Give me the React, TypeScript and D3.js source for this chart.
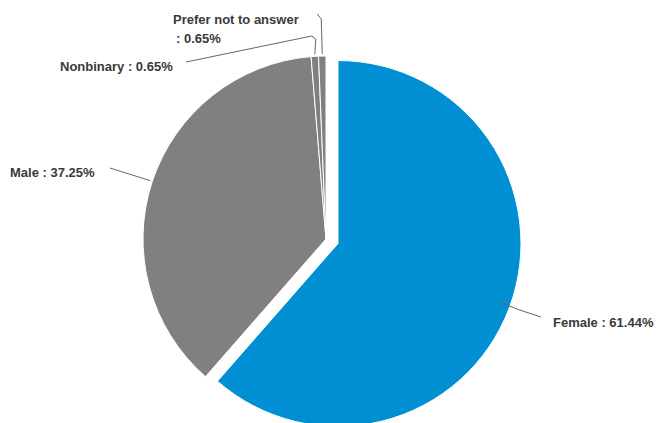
import React from "react";
import * as d3 from "d3";

const categories = ["Female", "Male", "Nonbinary", "Prefer not to answer"];
const values = [61.44, 37.25, 0.65, 0.65];
const valueLabels = ["61.44%", "37.25%", "0.65%", "0.65%"];
const colors = ["#008fd3", "#808080", "#808080", "#808080"];

const W = 657;
const H = 423;
const cx = 326;
const cy = 239;
const R = 183;
const explode = 12.8;

type LabelLayout = {
  lines: string[];
  x: number;
  y: number;
  anchor: "start" | "end";
  path: (p: [number, number]) => [number, number][];
};

export default function App() {
  const pie = d3
    .pie<number>()
    .value((d) => d)
    .sort(null)(values);
  const arc = d3.arc<d3.PieArcDatum<number>>().innerRadius(0).outerRadius(R);

  const layouts: LabelLayout[] = [
    {
      lines: [`${categories[0]} : ${valueLabels[0]}`],
      x: 553,
      y: 327,
      anchor: "start",
      path: (p) => [[p[0] - 10, p[1] - 6], [p[0] + 10, p[1] + 2], [541, 317]],
    },
    {
      lines: [`${categories[1]} : ${valueLabels[1]}`],
      x: 10,
      y: 177,
      anchor: "start",
      path: (p) => [[p[0] - 2, p[1] - 1], [110, 168]],
    },
    {
      lines: [`${categories[2]} : ${valueLabels[2]}`],
      x: 60,
      y: 71,
      anchor: "start",
      path: (p) => [[p[0], p[1] - 2], [p[0] + 1, 39], [p[0] - 3, 36], [186, 62]],
    },
    {
      lines: ["Prefer not to answer", `: ${valueLabels[3]}`],
      x: 173,
      y: 24,
      anchor: "start",
      path: (p) => [[p[0], p[1] - 2], [p[0] - 1, 19], [p[0] - 5, 14]],
    },
  ];

  return (
    <svg
      width={W}
      height={H}
      style={{ position: "absolute", left: 0, top: 0, background: "#fff" }}
      fontFamily="'Liberation Sans', Arial, sans-serif"
    >
      {pie.map((d, i) => {
        const mid = (d.startAngle + d.endAngle) / 2;
        const off = i === 0 ? explode : 0;
        const ox = cx + Math.sin(mid) * off;
        const oy = cy - Math.cos(mid) * off;
        return (
          <path
            key={i}
            d={arc(d) || ""}
            transform={`translate(${ox},${oy})`}
            fill={colors[i]}
            stroke="#ffffff"
            strokeWidth={1}
            strokeLinejoin="round"
          />
        );
      })}
      {pie.map((d, i) => {
        const mid = (d.startAngle + d.endAngle) / 2;
        const off = i === 0 ? explode : 0;
        const ox = cx + Math.sin(mid) * off;
        const oy = cy - Math.cos(mid) * off;
        const p: [number, number] = [ox + Math.sin(mid) * R, oy - Math.cos(mid) * R];
        const L = layouts[i];
        const pts = L.path(p);
        return (
          <g key={`l${i}`}>
            <path
              d={d3.line()(pts) || ""}
              fill="none"
              stroke="#666"
              strokeWidth={1}
            />
            <text
              x={L.x}
              y={L.y}
              textAnchor={L.anchor}
              fontSize={13}
              fill="#3a3a3a"
              fontWeight="bold"
            >
              {L.lines.map((ln, j) => (
                <tspan key={j} x={L.x + (j > 0 ? 3 : 0)} dy={j === 0 ? 0 : 19}>
                  {ln}
                </tspan>
              ))}
            </text>
          </g>
        );
      })}
    </svg>
  );
}
